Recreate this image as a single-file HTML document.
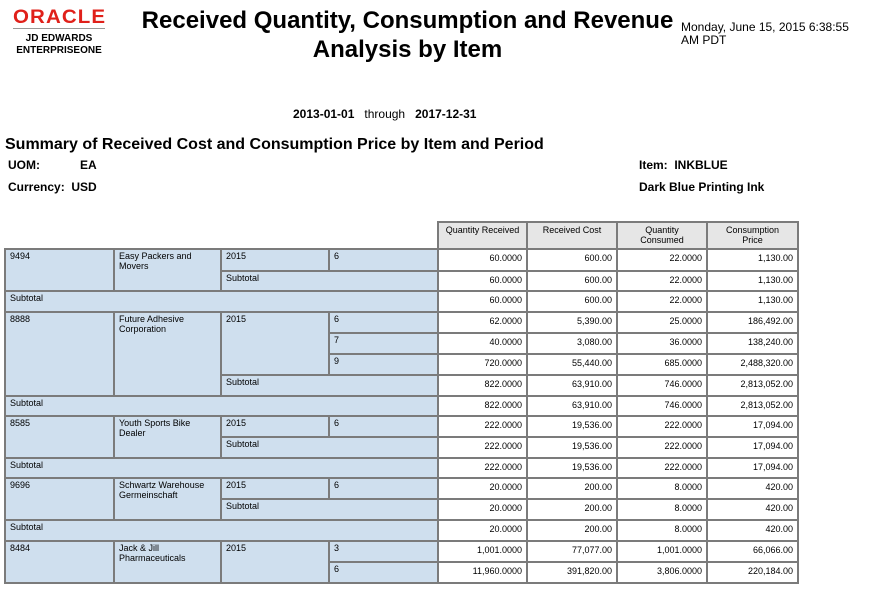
<!DOCTYPE html>
<html><head><meta charset="utf-8"><style>
body{margin:0;width:871px;height:595px;background:#fff;font-family:"Liberation Sans",Arial,sans-serif;position:relative;overflow:hidden;color:#000}
.a{position:absolute}
.c{position:absolute;box-sizing:border-box;border:2px solid #7b7b7b;font-size:9px;padding:1px 4px;line-height:10px}
.l{background:#cfdfee}
.h{background:#e6e6e6;text-align:center;font-size:9px;padding-top:2px}
.v{background:#fff;text-align:right;padding-top:3px}
</style></head><body>
<div class="a" style="left:13px;top:7px;font-size:19px;font-weight:bold;color:#e0201a;letter-spacing:1px;transform:scaleX(1.08);transform-origin:left">ORACLE</div>
<div class="a" style="left:13px;top:28px;width:92px;border-top:1px solid #999"></div>
<div class="a" style="left:12px;top:33px;width:94px;text-align:center;font-size:10px;font-weight:bold;line-height:12px">JD EDWARDS<br>ENTERPRISEONE</div>
<div class="a" style="left:130px;top:6px;width:555px;text-align:center;font-size:24px;font-weight:bold;line-height:29px">Received Quantity, Consumption and Revenue<br>Analysis by Item</div>
<div class="a" style="left:681px;top:21px;font-size:12px;line-height:13px">Monday, June 15, 2015 6:38:55<br>AM PDT</div>
<div class="a" style="left:293px;top:107px;font-size:12px"><b>2013-01-01</b> &nbsp; through &nbsp; <b>2017-12-31</b></div>
<div class="a" style="left:5px;top:136px;font-size:16px;font-weight:bold">Summary of Received Cost and Consumption Price by Item and Period</div>
<div class="a" style="left:8px;top:158px;font-size:12px;font-weight:bold">UOM:</div>
<div class="a" style="left:80px;top:158px;font-size:12px;font-weight:bold">EA</div>
<div class="a" style="left:8px;top:180px;font-size:12px;font-weight:bold">Currency:&nbsp; USD</div>
<div class="a" style="left:639px;top:158px;font-size:12px;font-weight:bold">Item:&nbsp; INKBLUE</div>
<div class="a" style="left:639px;top:180px;font-size:12px;font-weight:bold">Dark Blue Printing Ink</div>
<div id="t"></div>
<script>
var L=[221,248,270,290,311,332,353,374,395,415,436,457,477,498,519,540,561,582];
var X=[4,113,220,328,437,526,616,706,797];
var o='';
function cell(c0,c1,r0,r1,t,cls){o+='<div class="c '+cls+'" style="left:'+X[c0]+'px;top:'+L[r0]+'px;width:'+(X[c1]-X[c0]+2)+'px;height:'+(L[r1]-L[r0]+2)+'px">'+t+'</div>';}
var H=['Quantity Received','Received Cost','Quantity<br>Consumed','Consumption<br>Price'];
for(var i=0;i<4;i++)cell(4+i,5+i,0,1,H[i],'h');
var V={1:['60.0000','600.00','22.0000','1,130.00'],2:['60.0000','600.00','22.0000','1,130.00'],3:['60.0000','600.00','22.0000','1,130.00'],
4:['62.0000','5,390.00','25.0000','186,492.00'],5:['40.0000','3,080.00','36.0000','138,240.00'],6:['720.0000','55,440.00','685.0000','2,488,320.00'],
7:['822.0000','63,910.00','746.0000','2,813,052.00'],8:['822.0000','63,910.00','746.0000','2,813,052.00'],
9:['222.0000','19,536.00','222.0000','17,094.00'],10:['222.0000','19,536.00','222.0000','17,094.00'],11:['222.0000','19,536.00','222.0000','17,094.00'],
12:['20.0000','200.00','8.0000','420.00'],13:['20.0000','200.00','8.0000','420.00'],14:['20.0000','200.00','8.0000','420.00'],
15:['1,001.0000','77,077.00','1,001.0000','66,066.00'],16:['11,960.0000','391,820.00','3,806.0000','220,184.00']};
for(var r=1;r<=16;r++)for(var i=0;i<4;i++)cell(4+i,5+i,r,r+1,V[r][i],'v');
function grp(id,name,r0,n,pers){cell(0,1,r0,r0+n+1,id,'l');cell(1,2,r0,r0+n+1,name,'l');cell(2,3,r0,r0+n,'2015','l');
for(var k=0;k<n;k++)cell(3,4,r0+k,r0+k+1,pers[k],'l');cell(2,4,r0+n,r0+n+1,'Subtotal','l');cell(0,4,r0+n+1,r0+n+2,'Subtotal','l');}
grp('9494','Easy Packers and Movers',1,1,['6']);
grp('8888','Future Adhesive Corporation',4,3,['6','7','9']);
grp('8585','Youth Sports Bike Dealer',9,1,['6']);
grp('9696','Schwartz Warehouse Germeinschaft',12,1,['6']);
cell(0,1,15,17,'8484','l');cell(1,2,15,17,'Jack &amp; Jill Pharmaceuticals','l');cell(2,3,15,17,'2015','l');cell(3,4,15,16,'3','l');cell(3,4,16,17,'6','l');
document.getElementById('t').innerHTML=o;
</script>
</body></html>
